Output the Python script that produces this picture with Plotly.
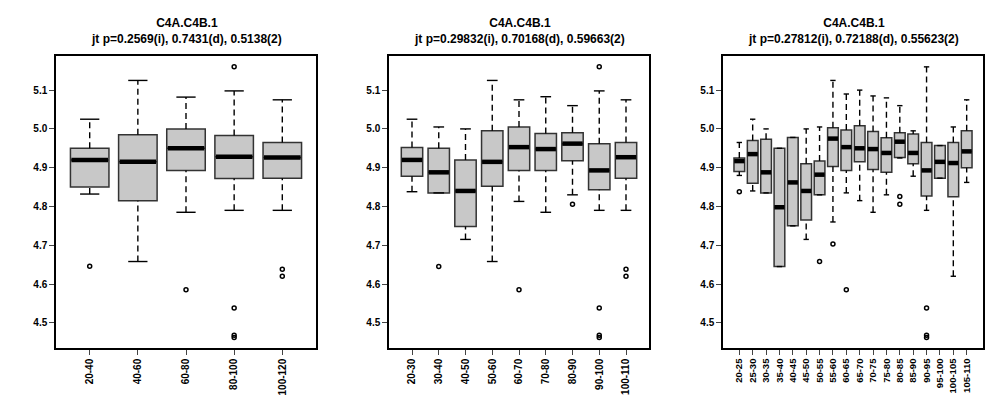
import plotly.graph_objects as go

cats1 = ["20-40","40-60","60-80","80-100","100-120"]
lw1 = [4.832,4.658,4.785,4.79,4.79]
q1_1 = [4.85,4.815,4.893,4.872,4.873]
med1 = [4.92,4.915,4.95,4.928,4.926]
q3_1 = [4.95,4.985,5.0,4.983,4.965]
uw1 = [5.025,5.125,5.082,5.098,5.075]
out1 = [[4.646],[],[4.585],[5.16,4.538,4.468,4.462],[4.638,4.62]]

cats2 = ["20-30","30-40","40-50","50-60","60-70","70-80","80-90","90-100","100-110"]
lw2 = [4.838,4.835,4.715,4.658,4.813,4.785,4.83,4.79,4.79]
q1_2 = [4.878,4.835,4.748,4.852,4.893,4.893,4.918,4.843,4.873]
med2 = [4.92,4.888,4.84,4.915,4.953,4.948,4.962,4.893,4.927]
q3_2 = [4.952,4.95,4.92,4.995,5.005,4.988,4.99,4.962,4.965]
uw2 = [5.025,5.005,5.0,5.125,5.075,5.083,5.06,5.098,5.075]
out2 = [[],[4.645],[],[],[4.585],[],[4.806],[5.16,4.538,4.468,4.462],[4.638,4.62]]

cats3 = ["20-25","25-30","30-35","35-40","40-45","45-50","50-55","55-60","60-65","65-70",
         "70-75","75-80","80-85","85-90","90-95","95-100","100-105","105-110"]
lw3 = [4.88,4.84,4.835,4.645,4.75,4.715,4.83,4.76,4.835,4.815,4.785,4.83,4.925,4.878,4.79,4.873,4.62,4.862]
q1_3 = [4.89,4.86,4.835,4.645,4.75,4.765,4.83,4.903,4.893,4.915,4.895,4.888,4.926,4.91,4.827,4.873,4.825,4.9]
med3 = [4.917,4.935,4.888,4.798,4.862,4.84,4.882,4.975,4.953,4.95,4.948,4.938,4.967,4.938,4.893,4.915,4.912,4.942]
q3_3 = [4.925,4.97,4.973,4.95,4.978,4.91,4.917,5.003,4.997,5.008,4.993,4.977,4.99,4.987,4.965,4.957,4.965,4.995]
uw3 = [4.965,5.025,5.0,4.95,4.978,5.0,5.005,5.125,5.09,5.10,5.085,5.08,5.06,4.995,5.16,4.957,5.005,5.075]
out3 = [[4.838],[],[],[],[],[],[4.658],[4.703],[4.585],[],[],[],[4.826,4.806],[],[4.538,4.468,4.462],[],[],[]]

yticks = [4.5,4.6,4.7,4.8,4.9,5.0,5.1]

titles = ["C4A.C4B.1<br>jt p=0.2569(i), 0.7431(d), 0.5138(2)",
          "C4A.C4B.1<br>jt p=0.29832(i), 0.70168(d), 0.59663(2)",
          "C4A.C4B.1<br>jt p=0.27812(i), 0.72188(d), 0.55623(2)"]

panels = [(cats1,lw1,q1_1,med1,q3_1,uw1,out1),
          (cats2,lw2,q1_2,med2,q3_2,uw2,out2),
          (cats3,lw3,q1_3,med3,q3_3,uw3,out3)]
domains = [[0.048,0.308],[0.381,0.641],[0.715,0.975]]

fig = go.Figure()
fam = "Liberation Sans, Arial"
for i,(cats,lw,q1,med,q3,uw,out) in enumerate(panels):
    n = len(cats)
    xs = list(range(1,n+1))
    ax = "" if i==0 else str(i+1)
    xa, ya = "x"+ax, "y"+ax
    bw, cw = 0.8, 0.4
    wx, wy, cx, cy = [], [], [], []
    for x,l,a,b,u in zip(xs,lw,q1,q3,uw):
        wx += [x,x,None,x,x,None]; wy += [l,a,None,b,u,None]
        cx += [x-cw/2,x+cw/2,None,x-cw/2,x+cw/2,None]; cy += [l,l,None,u,u,None]
    fig.add_trace(go.Scatter(x=wx,y=wy,mode="lines",line=dict(color="black",width=1.4,dash="6px,4px"),
                             xaxis=xa,yaxis=ya,showlegend=False,hoverinfo="skip"))
    fig.add_trace(go.Scatter(x=cx,y=cy,mode="lines",line=dict(color="black",width=1.4),
                             xaxis=xa,yaxis=ya,showlegend=False,hoverinfo="skip"))
    fig.add_trace(go.Box(x=xs,q1=q1,median=med,q3=q3,lowerfence=q1,upperfence=q3,
                         width=bw,fillcolor="#c8c8c8",line=dict(color="#333333",width=1.5),
                         boxpoints=False,xaxis=xa,yaxis=ya,showlegend=False))
    mx, my = [], []
    for x,m in zip(xs,med):
        mx += [x-bw/2+0.02,x+bw/2-0.02,None]; my += [m,m,None]
    fig.add_trace(go.Scatter(x=mx,y=my,mode="lines",line=dict(color="black",width=4.5),
                             xaxis=xa,yaxis=ya,showlegend=False,hoverinfo="skip"))
    ox, oy = [], []
    for x,o in zip(xs,out):
        ox += [x]*len(o); oy += o
    fig.add_trace(go.Scatter(x=ox,y=oy,mode="markers",marker=dict(symbol="circle-open",size=4,color="black",line=dict(width=1.5)),
                             xaxis=xa,yaxis=ya,showlegend=False))
    pad = n*0.04
    fig.update_layout(**{
        "xaxis"+ax: dict(domain=domains[i],range=[0.5-pad,n+0.5+pad],tickvals=xs,ticktext=["<b>"+c+"</b>" for c in cats],
                         tickangle=-90,ticks="outside",ticklen=5,showgrid=False,zeroline=False,
                         showline=True,mirror=True,linecolor="black",linewidth=1.5,
                         tickfont=dict(size=10 if n<18 else 9.5,family=fam,color="black"),anchor=ya),
        "yaxis"+ax: dict(domain=[0.15,0.88],range=[4.435,5.188],tickvals=yticks,
                         ticktext=["<b>%.1f</b>"%v for v in yticks],ticks="outside",ticklen=5,
                         showgrid=False,zeroline=False,showline=True,mirror=True,linecolor="black",linewidth=1.5,
                         tickfont=dict(size=10,family=fam,color="black"),anchor=xa)})
    fig.add_annotation(text="<b>"+titles[i].replace("<br>","</b><br><b>")+"</b>",xref="paper",yref="paper",
                       x=sum(domains[i])/2,y=0.985,xanchor="center",yanchor="top",showarrow=False,
                       font=dict(family=fam,size=12,color="black"))

fig.update_layout(width=1000,height=400,margin=dict(l=0,r=0,t=0,b=0),plot_bgcolor="white",
                  paper_bgcolor="white",font=dict(family=fam,size=10,color="black"))
fig.write_html("out.html")
